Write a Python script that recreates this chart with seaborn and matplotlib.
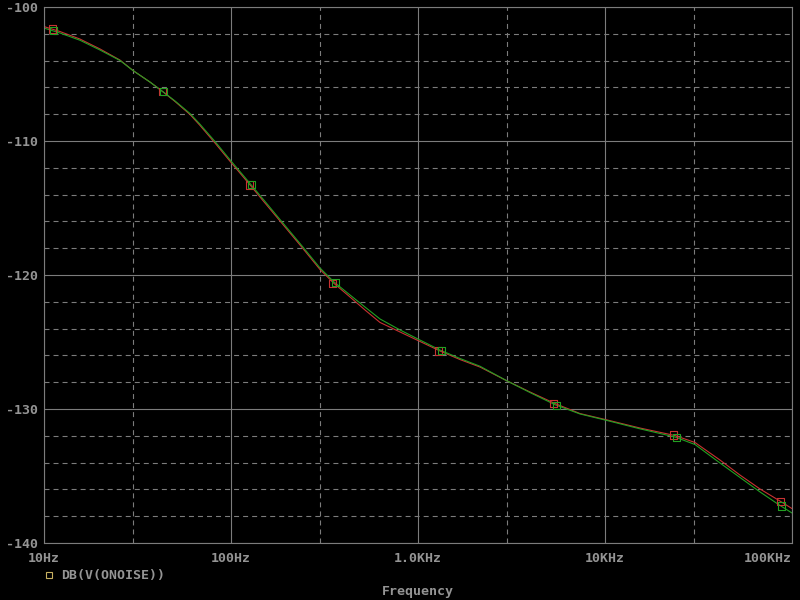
#!/usr/bin/env python3
import matplotlib
matplotlib.use("Agg")
import matplotlib.pyplot as plt
from matplotlib.lines import Line2D
import pandas as pd
import seaborn as sns

# frequency sweep (Hz) and the two noise traces (dB)
freq = [10, 12.18, 15.57, 19.93, 25.49, 29.92, 36.88, 42.76, 50.18, 60.36,
        68.28, 82.11, 100, 126.4, 152.0, 182.8, 233.9, 299.2, 355.5, 432.8,
        520.6, 626.1, 801.0, 1000, 1311, 1677, 2146, 3000, 3971, 5403, 7351,
        10000, 15390, 23670, 30290, 41210, 52720, 67450, 86280, 100000]
red_db = [-101.46, -101.83, -102.39, -103.13, -103.96, -104.74, -105.60,
          -106.27, -107.05, -108.02, -108.84, -110.15, -111.60, -113.28,
          -114.63, -115.97, -117.76, -119.59, -120.63, -121.64, -122.61,
          -123.54, -124.25, -124.89, -125.67, -126.31, -126.87, -127.91,
          -128.73, -129.59, -130.34, -130.78, -131.42, -131.98, -132.50,
          -133.81, -134.93, -135.97, -136.87, -137.43]
green_db = [-101.57, -101.94, -102.48, -103.21, -103.99, -104.74, -105.60,
            -106.27, -107.01, -107.95, -108.75, -110.04, -111.49, -113.17,
            -114.51, -115.86, -117.65, -119.48, -120.52, -121.49, -122.39,
            -123.28, -124.10, -124.78, -125.60, -126.23, -126.81, -127.91,
            -128.77, -129.68, -130.37, -130.82, -131.48, -132.09, -132.65,
            -134.03, -135.11, -136.19, -137.20, -137.76]

# trace markers
red_mark_freq = [11.08, 43.1, 125.3, 349.9, 1290, 5291, 23190, 86570]
red_mark_db = [-101.64, -106.29, -113.28, -120.62, -125.67, -129.60, -131.94, -136.87]
green_mark_freq = [11.2, 43.6, 128.4, 361.2, 1332, 5516, 24180, 88080]
green_mark_db = [-101.72, -106.29, -113.23, -120.55, -125.62, -129.72, -132.11, -137.24]

x_ticks = [10, 100, 1000, 10000, 100000]
x_ticklabels = ["10Hz", "100Hz", "1.0KHz", "10KHz", "100KHz"]
x_minor = [30, 300, 3000, 30000]
y_ticks = [-100, -110, -120, -130, -140]
y_ticklabels = ["-100", "-110", "-120", "-130", "-140"]
y_minor = [-102, -104, -106, -108, -112, -114, -116, -118, -122, -124, -126,
           -128, -132, -134, -136, -138]

legend_label = "DB(V(ONOISE))"
x_label = "Frequency"

RED = "#c83232"
GREEN = "#22a022"
GRID = "#7c7c7c"
TEXT = "#949494"
MONO = "DejaVu Sans Mono"
FS = 9.5

sns.set_theme(style="dark")
plt.rcParams["lines.scale_dashes"] = False
plt.rcParams["font.family"] = [MONO, "DejaVu Sans"]

df = pd.DataFrame({
    "freq": freq * 2,
    "db": red_db + green_db,
    "trace": ["red"] * len(freq) + ["green"] * len(freq),
})

fig = plt.figure(figsize=(8, 6), dpi=100, facecolor="black")
ax = fig.add_axes([0.055, 0.095, 0.935, 0.8933])
ax.set_facecolor("black")

sns.lineplot(data=df, x="freq", y="db", hue="trace",
             palette={"red": RED, "green": GREEN}, estimator=None, sort=False,
             linewidth=0.8, legend=False, ax=ax)
ax.scatter(red_mark_freq, red_mark_db, marker="s", s=26, facecolors="none",
           edgecolors=RED, linewidths=0.8, zorder=5)
ax.scatter(green_mark_freq, green_mark_db, marker="s", s=26, facecolors="none",
           edgecolors=GREEN, linewidths=0.8, zorder=5)

ax.set_xscale("log")
ax.set_xlim(10, 100000)
ax.set_ylim(-140, -100)
ax.set_xticks(x_ticks)
ax.set_xticklabels(x_ticklabels)
ax.set_xticks(x_minor, minor=True)
ax.set_xticklabels([], minor=True)
ax.set_yticks(y_ticks)
ax.set_yticklabels(y_ticklabels)
ax.set_yticks(y_minor, minor=True)

ax.grid(which="major", color=GRID, linestyle="-", linewidth=0.8)
ax.grid(which="minor", color=GRID, linestyle=(0, (3.6, 2.9)), linewidth=0.8)
ax.tick_params(which="major", length=3.6, width=0.8, color=GRID,
               colors=TEXT, labelsize=FS, direction="out")
ax.tick_params(which="minor", length=0)
ax.tick_params(axis="y", pad=0.6)
ax.tick_params(axis="x", pad=3)
for lab in ax.get_xticklabels() + ax.get_yticklabels():
    lab.set_fontweight("bold")
ax.get_xticklabels()[-1].set_horizontalalignment("right")
for s in ax.spines.values():
    s.set_color(GRID)
    s.set_linewidth(0.8)
ax.set_axisbelow(True)

ax.set_xlabel("")
ax.set_ylabel("")
fig.text(0.5225, 1 - 591 / 600, x_label, color=TEXT, fontsize=FS,
         fontweight="bold", ha="center", va="center")

handle = Line2D([], [], marker="s", linestyle="none", markersize=4.5,
                markerfacecolor="none", markeredgecolor="#c8b060",
                markeredgewidth=0.8)
fig.legend([handle], [legend_label], loc="center left",
           bbox_to_anchor=(42.5 / 800, 1 - 576 / 600), frameon=False,
           handlelength=1.0, handletextpad=0.41, borderpad=0, borderaxespad=0,
           prop={"family": MONO, "weight": "bold", "size": FS},
           labelcolor=TEXT)

fig.savefig("out.png", dpi=100, facecolor="black")
